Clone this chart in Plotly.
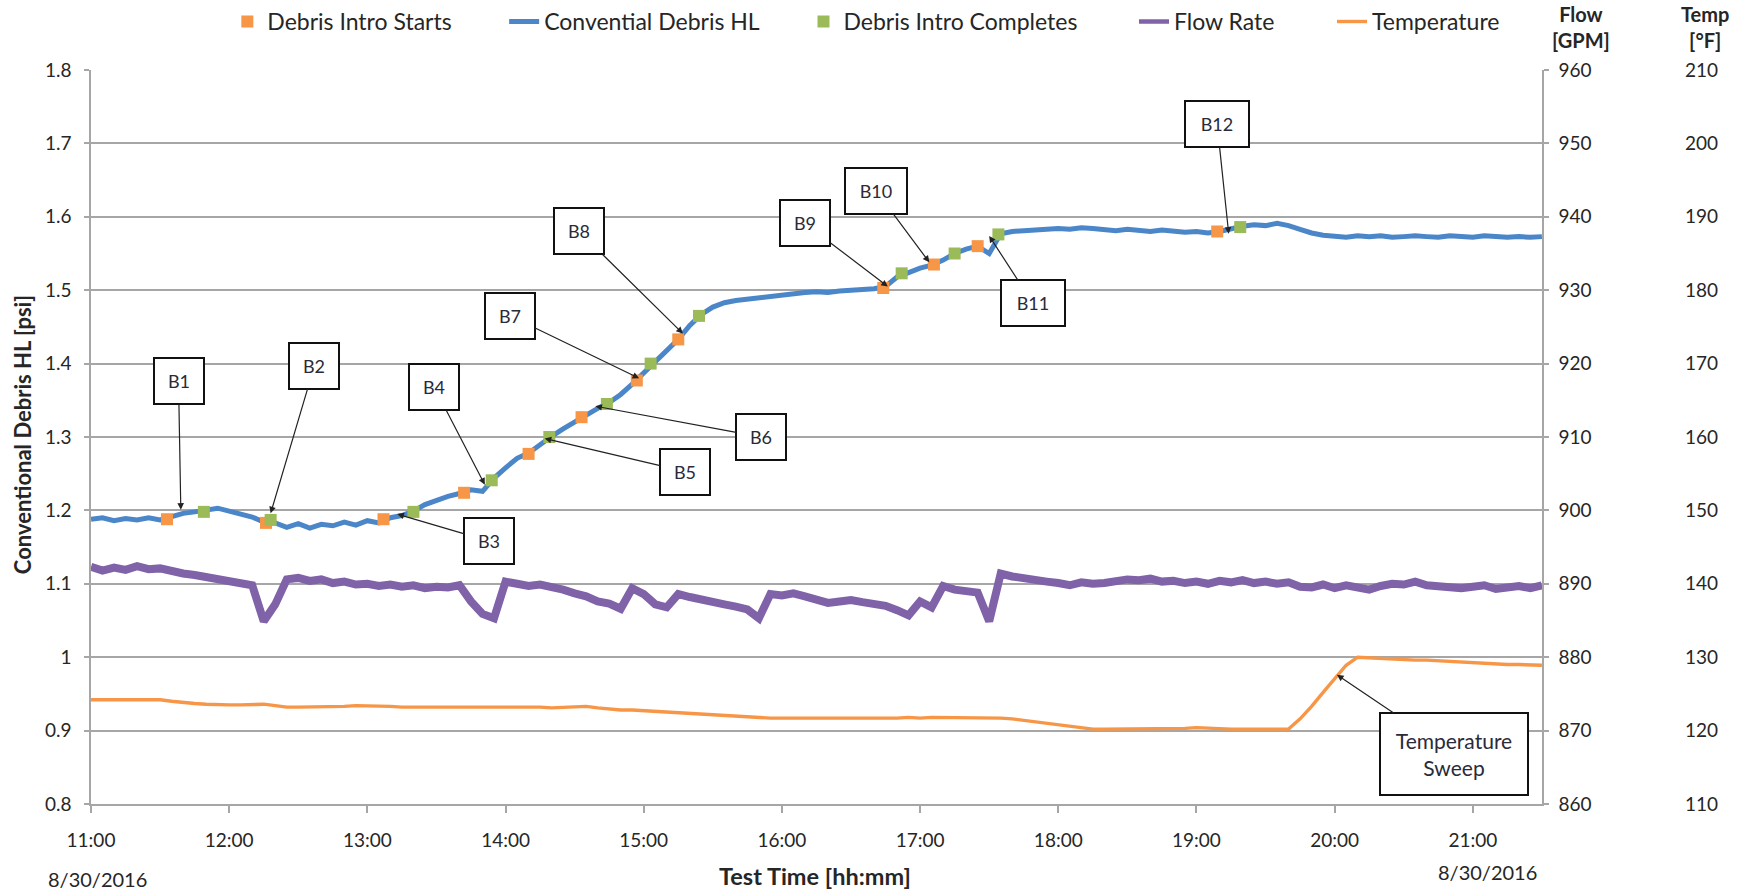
import pandas as pd
import plotly.graph_objects as go

# ---- sampled test data, 5-minute samples starting 11:00 on 8/30/2016 ----
START = "2016-08-30 11:00"

debris_hl_psi = [
    1.188, 1.190, 1.186, 1.189, 1.187, 1.190, 1.187, 1.192, 1.196, 1.198,
    1.200, 1.203, 1.199, 1.195, 1.191, 1.184, 1.183, 1.177, 1.182, 1.176,
    1.181, 1.179, 1.184, 1.180, 1.186, 1.183, 1.190, 1.193, 1.199, 1.208,
    1.214, 1.219, 1.223, 1.228, 1.226, 1.244, 1.258, 1.271, 1.278, 1.290,
    1.301, 1.311, 1.321, 1.330, 1.339, 1.347, 1.358, 1.372, 1.387, 1.403,
    1.418, 1.433, 1.452, 1.467, 1.477, 1.483, 1.486, 1.488, 1.490, 1.492,
    1.494, 1.495, 1.497, 1.498, 1.497, 1.499, 1.500, 1.501, 1.502, 1.505,
    1.518, 1.524, 1.530, 1.534, 1.541, 1.550, 1.556, 1.560, 1.550, 1.577,
    1.580, 1.581, 1.582, 1.583, 1.584, 1.583, 1.585, 1.584, 1.583, 1.581,
    1.583, 1.582, 1.580, 1.582, 1.581, 1.579, 1.580, 1.578, 1.580, 1.584,
    1.587, 1.589, 1.588, 1.591, 1.588, 1.583, 1.578, 1.575, 1.574, 1.572,
    1.574, 1.573, 1.574, 1.572, 1.573, 1.574, 1.573, 1.572, 1.574, 1.573,
    1.572, 1.574, 1.573, 1.572, 1.573, 1.572, 1.573,
]

flow_gpm = [
    892.3, 891.8, 892.2, 891.9, 892.4, 892.0, 892.1, 891.7, 891.4, 891.2,
    890.9, 890.5, 890.3, 890.0, 889.8, 884.9, 887.2, 890.6, 890.8, 890.4,
    890.6, 890.1, 890.3, 889.9, 890.0, 889.7, 889.9, 889.6, 889.8, 889.4,
    889.6, 889.5, 889.8, 887.6, 885.9, 885.3, 890.3, 890.0, 889.7, 889.9,
    889.6, 889.2, 888.7, 888.3, 887.6, 887.3, 886.6, 889.4, 888.6, 887.2,
    886.8, 888.6, 888.2, 887.8, 887.5, 887.2, 886.9, 886.5, 885.3, 888.6,
    888.4, 888.7, 888.3, 887.9, 887.4, 887.6, 887.8, 887.5, 887.3, 887.0,
    886.4, 885.7, 887.6, 886.8, 889.7, 889.2, 889.0, 888.8, 884.9, 891.4,
    891.0, 890.7, 890.6, 890.3, 890.1, 889.8, 890.2, 890.0, 890.1, 890.4,
    890.6, 890.5, 890.7, 890.3, 890.4, 890.1, 890.3, 890.0, 890.4, 890.2,
    890.5, 890.1, 890.3, 890.0, 890.2, 889.6, 889.5, 889.9, 889.4, 889.8,
    889.5, 889.2, 889.7, 890.0, 889.9, 890.3, 889.8, 889.6, 889.5, 889.4,
    889.6, 889.8, 889.3, 889.6, 889.7, 889.4, 889.8,
]

temperature_f = [
    124.2, 124.2, 124.3, 124.2, 124.2, 124.3, 124.2, 124.0, 123.8, 123.7,
    123.6, 123.5, 123.5, 123.5, 123.6, 123.6, 123.4, 123.2, 123.2, 123.2,
    123.3, 123.3, 123.3, 123.4, 123.4, 123.3, 123.3, 123.2, 123.2, 123.3,
    123.3, 123.3, 123.2, 123.3, 123.3, 123.2, 123.2, 123.3, 123.2, 123.2,
    123.1, 123.2, 123.3, 123.3, 123.1, 122.9, 122.8, 122.8, 122.7, 122.6,
    122.5, 122.4, 122.3, 122.2, 122.1, 122.0, 121.9, 121.8, 121.8, 121.7,
    121.7, 121.7, 121.7, 121.6, 121.7, 121.7, 121.7, 121.6, 121.6, 121.7,
    121.7, 121.8, 121.7, 121.8, 121.8, 121.8, 121.8, 121.8, 121.8, 121.7,
    121.6, 121.4, 121.1, 120.9, 120.7, 120.5, 120.3, 120.2, 120.2, 120.2,
    120.2, 120.2, 120.3, 120.3, 120.3, 120.3, 120.4, 120.3, 120.3, 120.2,
    120.2, 120.2, 120.2, 120.2, 120.2, 121.6, 123.3, 125.2, 127.0, 128.9,
    130.0, 129.9, 129.8, 129.8, 129.7, 129.6, 129.6, 129.5, 129.4, 129.3,
    129.2, 129.2, 129.1, 129.0, 129.0, 128.9, 128.9,
]

# ---- debris batch introduction events B1..B12 ----
batch_labels = ["B1", "B2", "B3", "B4", "B5", "B6",
                "B7", "B8", "B9", "B10", "B11", "B12"]
intro_start_time = ["11:33", "12:16", "13:07", "13:42", "14:10", "14:33",
                    "14:57", "15:15", "16:44", "17:06", "17:25", "19:09"]
intro_start_psi = [1.188, 1.183, 1.188, 1.224, 1.277, 1.327,
                   1.377, 1.433, 1.503, 1.535, 1.560, 1.580]
intro_done_time = ["11:49", "12:18", "13:20", "13:54", "14:19", "14:44",
                   "15:03", "15:24", "16:52", "17:15", "17:34", "19:19"]
intro_done_psi = [1.198, 1.187, 1.198, 1.241, 1.300, 1.345,
                  1.400, 1.465, 1.523, 1.550, 1.576, 1.586]

DAY = "2016-08-30 "


def series_times(values):
    return pd.date_range(START, periods=len(values), freq="5min")


BLUE = "#4A86C8"
PURPLE = "#7F62A8"
ORANGE = "#F79646"
GREEN = "#9BBB59"
GRID = "#A6A6A6"
FONT = "Lato"
TEXT = "#262626"

fig = go.Figure()

fig.add_trace(go.Scatter(
    x=series_times(temperature_f), y=temperature_f, name="Temperature",
    mode="lines", line=dict(color=ORANGE, width=3.4), yaxis="y3",
    legend="legend5",
))
# the flow band is drawn thick; its legend entry uses a normal-weight line
fig.add_trace(go.Scatter(
    x=series_times(flow_gpm), y=flow_gpm, name="Flow Rate",
    mode="lines", line=dict(color=PURPLE, width=8), yaxis="y2",
    showlegend=False,
))
fig.add_trace(go.Scatter(
    x=[None], y=[None], name="Flow Rate", mode="lines",
    line=dict(color=PURPLE, width=4.5), yaxis="y2", legend="legend4",
    hoverinfo="skip",
))
fig.add_trace(go.Scatter(
    x=series_times(debris_hl_psi), y=debris_hl_psi, name="Convential Debris HL",
    mode="lines", line=dict(color=BLUE, width=5), yaxis="y",
    legend="legend2",
))
fig.add_trace(go.Scatter(
    x=[DAY + t for t in intro_start_time], y=intro_start_psi,
    name="Debris Intro Starts", mode="markers",
    marker=dict(symbol="square", size=12, color=ORANGE), legend="legend",
))
fig.add_trace(go.Scatter(
    x=[DAY + t for t in intro_done_time], y=intro_done_psi,
    name="Debris Intro Completes", mode="markers",
    marker=dict(symbol="square", size=12, color=GREEN), legend="legend3",
))

# callout boxes: (label, arrow tip time, tip psi, box time, box psi, box width)
callouts = [
    ("B1", "11:39", 1.201, "11:38", 1.376, 48),
    ("B2", "12:18", 1.196, "12:37", 1.397, 48),
    ("B3", "13:13", 1.195, "13:53", 1.158, 48),
    ("B4", "13:51", 1.235, "13:29", 1.368, 48),
    ("B5", "14:17", 1.298, "15:18", 1.253, 48),
    ("B6", "14:39", 1.342, "15:51", 1.300, 48),
    ("B7", "14:58", 1.380, "14:02", 1.465, 48),
    ("B8", "15:17", 1.441, "14:32", 1.580, 48),
    ("B9", "16:46", 1.505, "16:10", 1.591, 48),
    ("B10", "17:04", 1.538, "16:41", 1.635, 60),
    ("B11", "17:30", 1.574, "17:49", 1.482, 62),
    ("B12", "19:14", 1.577, "19:09", 1.726, 62),
]

annotations = []
for label, tx, ty, bx, by, w in callouts:
    annotations.append(dict(
        x=DAY + tx, y=ty, xref="x", yref="y",
        ax=DAY + bx, ay=by, axref="x", ayref="y",
        text=label, showarrow=True, arrowhead=2, arrowsize=1.1,
        arrowwidth=1.2, arrowcolor="#222222", standoff=0,
        font=dict(family=FONT, size=18, color="#2a2a3a"),
        bgcolor="white", bordercolor="#111111", borderwidth=2,
        borderpad=0, width=w, height=44, align="center", valign="middle",
    ))

annotations.append(dict(
    x=DAY + "20:01", y=127.6, xref="x", yref="y3",
    ax=DAY + "20:52", ay=116.8, axref="x", ayref="y3",
    text="Temperature<br>Sweep", showarrow=True, arrowhead=2, arrowsize=1.1,
    arrowwidth=1.2, arrowcolor="#222222", standoff=0,
    font=dict(family=FONT, size=21, color="#2a2a3a"),
    bgcolor="white", bordercolor="#111111", borderwidth=2,
    borderpad=0, width=146, height=80, align="center", valign="middle",
))

annotations += [
    dict(x=-0.0432, y=0.503, xref="paper", yref="paper", textangle=-90,
         xanchor="center", yanchor="middle",
         text="<b>Conventional Debris HL [psi]</b>", showarrow=False,
         font=dict(family=FONT, size=22, color=TEXT)),
    dict(x=0.4556, y=-0.098, xref="paper", yref="paper",
         xanchor="center", yanchor="middle",
         text="<b>Test Time [hh:mm]</b>", showarrow=False,
         font=dict(family=FONT, size=23.5, color=TEXT)),
    dict(x=0.0044, y=-0.102, xref="paper", yref="paper",
         xanchor="center", yanchor="middle",
         text="8/30/2016", showarrow=False,
         font=dict(family=FONT, size=20, color=TEXT)),
    dict(x=0.879, y=-0.093, xref="paper", yref="paper",
         xanchor="center", yanchor="middle",
         text="8/30/2016", showarrow=False,
         font=dict(family=FONT, size=20, color=TEXT)),
    dict(x=0.938, y=1.0586, xref="paper", yref="paper",
         xanchor="center", yanchor="middle",
         text="<b>Flow<br>[GPM]</b>", showarrow=False,
         font=dict(family=FONT, size=20, color=TEXT)),
    dict(x=1.0157, y=1.0586, xref="paper", yref="paper",
         xanchor="center", yanchor="middle",
         text="<b>Temp<br>[°F]</b>", showarrow=False,
         font=dict(family=FONT, size=20, color=TEXT)),
]

tick_font = dict(family=FONT, size=19, color=TEXT)


def legend_box(x):
    return dict(
        orientation="h", x=x, y=1.066, xanchor="left", yanchor="middle",
        font=dict(family=FONT, size=23, color=TEXT),
        bgcolor="rgba(0,0,0,0)", itemwidth=30,
    )


fig.update_layout(
    width=1747, height=893,
    margin=dict(l=91, r=67, t=70, b=89, autoexpand=False),
    paper_bgcolor="white", plot_bgcolor="white",
    font=dict(family=FONT, color=TEXT),
    showlegend=True,
    legend=legend_box(0.0858),
    legend2=legend_box(0.2600),
    legend3=legend_box(0.4484),
    legend4=legend_box(0.6564),
    legend5=legend_box(0.7810),
    xaxis=dict(
        domain=[0, 0.9131],
        range=[DAY + "11:00", DAY + "21:30"],
        tickformat="%H:%M", dtick=3600000,
        tick0=DAY + "11:00",
        showgrid=False, showline=True, linecolor=GRID, linewidth=1.5,
        ticks="outside", ticklen=7, tickcolor=GRID, tickwidth=1.5,
        tickfont=tick_font, ticklabelstandoff=11,
        zeroline=False,
    ),
    yaxis=dict(
        range=[0.8, 1.8],
        tickvals=[0.8, 0.9, 1.0, 1.1, 1.2, 1.3, 1.4, 1.5, 1.6, 1.7, 1.8],
        ticktext=["0.8", "0.9", "1", "1.1", "1.2", "1.3", "1.4", "1.5",
                  "1.6", "1.7", "1.8"],
        showgrid=True, gridcolor=GRID, gridwidth=1.5,
        showline=True, linecolor=GRID, linewidth=1.5,
        ticks="outside", ticklen=5, tickcolor=GRID, tickwidth=1.5,
        tickfont=tick_font, ticklabelstandoff=9, zeroline=False,
    ),
    yaxis2=dict(
        range=[860, 960], dtick=10, tick0=860,
        overlaying="y", side="right", anchor="x",
        showgrid=False, showline=True, linecolor=GRID, linewidth=1.5,
        ticks="outside", ticklen=5, tickcolor=GRID, tickwidth=1.5,
        tickfont=tick_font, ticklabelstandoff=6, zeroline=False,
    ),
    yaxis3=dict(
        range=[110, 210], dtick=10, tick0=110,
        overlaying="y", side="right", anchor="free", position=1.0,
        showgrid=False, showline=False, ticks="",
        tickfont=tick_font, ticklabelstandoff=4, zeroline=False,
    ),
    annotations=annotations,
)

fig.write_html("out.html")
